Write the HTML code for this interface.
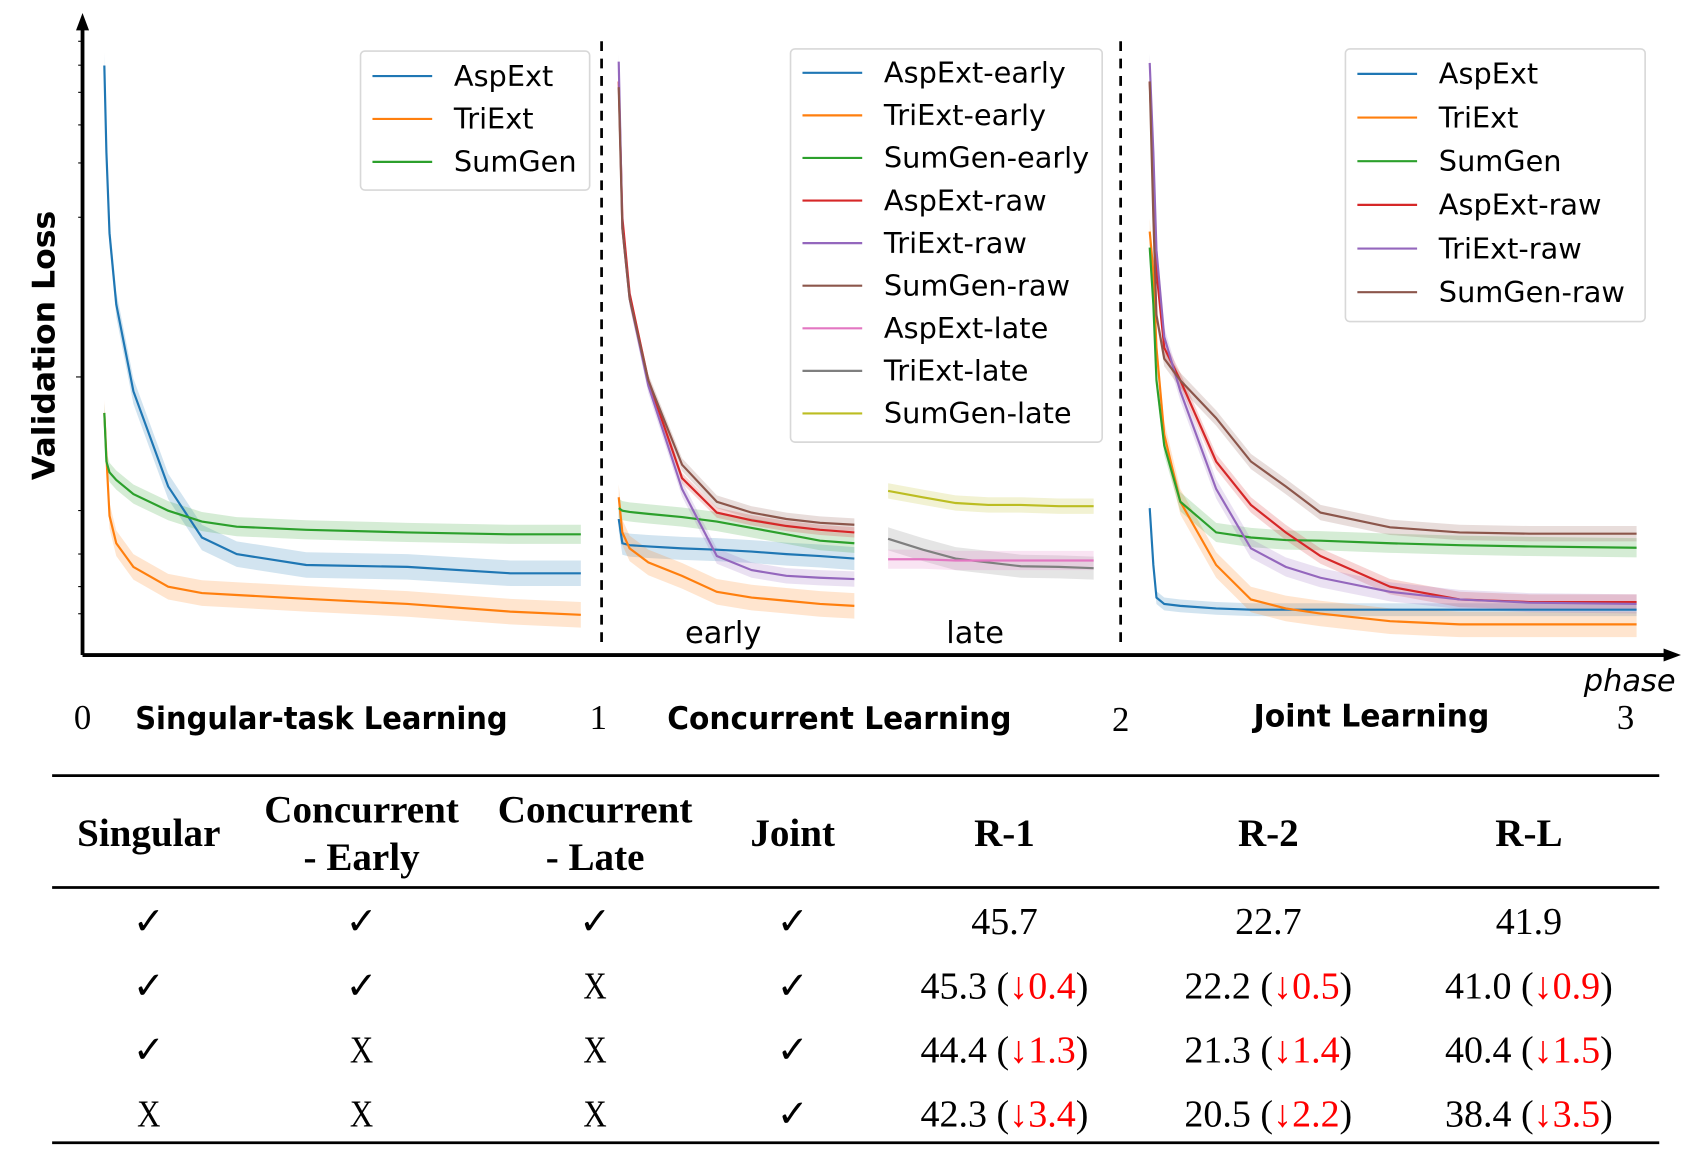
<!DOCTYPE html>
<html><head><meta charset="utf-8"><style>
html,body{margin:0;padding:0;background:#fff;}
svg{display:block;}
.lg{font-family:"DejaVu Sans","Liberation Sans",sans-serif;font-size:26.5px;fill:#000;}
.tb{font-family:"Liberation Serif",serif;font-size:35px;fill:#000;text-anchor:middle;}
.th{font-family:"Liberation Serif",serif;font-size:36px;font-weight:bold;fill:#000;text-anchor:middle;}
.red{fill:#ff0000;}
</style></head><body>
<svg id="chart" width="1694" height="1158" viewBox="0 0 1560 1066" preserveAspectRatio="none" xmlns="http://www.w3.org/2000/svg">
<g id="bands"></g>
<g id="lines"></g>
<g>
<line x1="76" y1="603" x2="76" y2="22" stroke="#000" stroke-width="3.5"/>
<polygon points="76,12 70,28 82,28" fill="#000"/>
<line x1="76" y1="603" x2="1535" y2="603" stroke="#000" stroke-width="3.5"/>
<polygon points="1548,603 1532,597 1532,609" fill="#000"/>
<g stroke="#000" stroke-width="1">
<line x1="72" y1="565" x2="76" y2="565"/><line x1="72" y1="540" x2="76" y2="540"/><line x1="72" y1="510" x2="76" y2="510"/><line x1="72" y1="470" x2="76" y2="470"/><line x1="70" y1="347" x2="76" y2="347"/><line x1="72" y1="200" x2="76" y2="200"/><line x1="72" y1="150" x2="76" y2="150"/><line x1="72" y1="115" x2="76" y2="115"/><line x1="72" y1="85" x2="76" y2="85"/><line x1="72" y1="60" x2="76" y2="60"/><line x1="72" y1="38" x2="76" y2="38"/>
</g>
<line x1="554" y1="38" x2="554" y2="598" stroke="#000" stroke-width="2.5" stroke-dasharray="9,7"/>
<line x1="1032" y1="38" x2="1032" y2="598" stroke="#000" stroke-width="2.5" stroke-dasharray="9,7"/>
<text transform="translate(50,318) rotate(-90)" text-anchor="middle" font-family="'DejaVu Sans',sans-serif" font-weight="bold" font-size="29">Validation Loss</text>
<text x="666" y="592" text-anchor="middle" class="lg" style="font-size:28px">early</text>
<text x="898" y="592" text-anchor="middle" class="lg" style="font-size:28px">late</text>
<text x="1543" y="636" text-anchor="end" class="lg" style="font-size:28px;font-style:italic">phase</text>
<g font-family="'Liberation Serif',serif" font-size="32" text-anchor="middle">
<text x="76" y="671">0</text>
<text x="551" y="671">1</text>
<text x="1032" y="673">2</text>
<text x="1497" y="671">3</text>
</g>
<g font-family="'DejaVu Sans',sans-serif" font-size="29" font-weight="bold" text-anchor="middle">
<text x="296" y="671" textLength="343" lengthAdjust="spacingAndGlyphs">Singular-task Learning</text>
<text x="773" y="671" textLength="317" lengthAdjust="spacingAndGlyphs">Concurrent Learning</text>
<text x="1263" y="669" textLength="217" lengthAdjust="spacingAndGlyphs">Joint Learning</text>
</g>
</g>
<g id="legends"></g>
<g>
<line x1="48" y1="714" x2="1528" y2="714" stroke="#000" stroke-width="2.5"/>
<line x1="48" y1="817" x2="1528" y2="817" stroke="#000" stroke-width="2.5"/>
<line x1="48" y1="1052" x2="1528" y2="1052" stroke="#000" stroke-width="2.5"/>
<text class="th" x="137" y="779">Singular</text>
<text class="th" x="333" y="757">Concurrent<tspan x="333" y="801">- Early</tspan></text>
<text class="th" x="548" y="757">Concurrent<tspan x="548" y="801">- Late</tspan></text>
<text class="th" x="730" y="779">Joint</text>
<text class="th" x="925" y="779">R-1</text>
<text class="th" x="1168" y="779">R-2</text>
<text class="th" x="1408" y="779">R-L</text>
<g id="tbody"></g>
</g>
</svg>
<script>
const xPhase1 = [0.042,0.046,0.052,0.065,0.098,0.165,0.230,0.297,0.431,0.626,0.824,0.960];
const p1AspExt = [9.23,7.87,6.60,5.49,4.13,2.64,1.84,1.58,1.41,1.38,1.28,1.28];
const p1TriExt = [3.79,3.11,2.18,1.75,1.38,1.07,0.97,0.94,0.88,0.80,0.68,0.63];
const p1SumGen = [3.79,3.03,2.86,2.74,2.52,2.26,2.09,2.01,1.96,1.92,1.89,1.89];
const xEarly = [1.033,1.040,1.054,1.090,1.155,1.222,1.289,1.356,1.421,1.487];
const earlyAspExt = [2.13,1.75,1.72,1.70,1.67,1.65,1.62,1.58,1.55,1.51];
const earlyTriExt = [2.47,1.92,1.67,1.45,1.24,0.99,0.90,0.85,0.80,0.77];
const earlySumGen = [2.30,2.26,2.24,2.21,2.16,2.09,1.99,1.89,1.79,1.75];
const earlyAspRaw = [8.98,6.85,5.66,4.30,2.77,2.23,2.11,2.02,1.96,1.92];
const earlyTriRaw = [9.29,6.68,5.58,4.22,2.60,1.55,1.33,1.24,1.21,1.19];
const earlySumRaw = [8.89,6.68,5.58,4.30,2.98,2.40,2.23,2.13,2.07,2.04];
const xLate = [1.552,1.619,1.682,1.745,1.808,1.881,1.948];
const lateSumGen = [2.57,2.47,2.38,2.35,2.35,2.33,2.33];
const lateTriExt = [1.82,1.65,1.51,1.45,1.39,1.38,1.36];
const lateAspExt = [1.50,1.50,1.48,1.48,1.48,1.48,1.48];
const xJoint = [2.056,2.063,2.069,2.084,2.115,2.184,2.251,2.318,2.385,2.519,2.653,2.787,2.994];
const jAspExt = [2.30,1.41,0.90,0.80,0.77,0.73,0.71,0.71,0.71,0.71,0.71,0.71,0.71];
const jTriExt = [6.63,6.00,4.81,3.45,2.40,1.41,0.87,0.73,0.65,0.53,0.48,0.48,0.48];
const jSumGen = [6.38,5.49,4.30,3.28,2.40,1.92,1.84,1.80,1.79,1.75,1.72,1.70,1.68];
const jAspRaw = [8.98,7.53,6.00,4.81,4.30,3.03,2.35,1.92,1.55,1.07,0.87,0.83,0.83];
const jTriRaw = [9.27,7.87,6.34,4.98,4.13,2.60,1.67,1.38,1.21,0.99,0.87,0.82,0.80];
const jSumRaw = [8.98,6.85,5.32,4.64,4.30,3.71,3.03,2.64,2.23,2.00,1.92,1.90,1.90];

const C = {blue:'#1f77b4',orange:'#ff7f0e',green:'#2ca02c',red:'#d62728',purple:'#9467bd',brown:'#8c564b',pink:'#e377c2',gray:'#7f7f7f',olive:'#bcbd22'};
const xs = p => 76 + p*478;
const ys = v => 603 - v*58.8;
const NS = 'http://www.w3.org/2000/svg';
const series = [
 ['phase1-aspext',xPhase1,p1AspExt,C.blue,0.2],['phase1-triext',xPhase1,p1TriExt,C.orange,0.2],['phase1-sumgen',xPhase1,p1SumGen,C.green,0.15],
 ['early-aspext',xEarly,earlyAspExt,C.blue,0.18],['early-triext',xEarly,earlyTriExt,C.orange,0.2],['early-sumgen',xEarly,earlySumGen,C.green,0.15],
 ['early-aspext-raw',xEarly,earlyAspRaw,C.red,0.08],['early-triext-raw',xEarly,earlyTriRaw,C.purple,0.12],['early-sumgen-raw',xEarly,earlySumRaw,C.brown,0.1],
 ['late-sumgen',xLate,lateSumGen,C.olive,0.12],['late-triext',xLate,lateTriExt,C.gray,0.18],['late-aspext',xLate,lateAspExt,C.pink,0.15],
 ['joint-aspext',xJoint,jAspExt,C.blue,0.1],['joint-triext',xJoint,jTriExt,C.orange,0.2],['joint-sumgen',xJoint,jSumGen,C.green,0.15],
 ['joint-aspext-raw',xJoint,jAspRaw,C.red,0.12],['joint-triext-raw',xJoint,jTriRaw,C.purple,0.15],['joint-sumgen-raw',xJoint,jSumRaw,C.brown,0.12]
];
const bandsG=document.getElementById('bands'), linesG=document.getElementById('lines');
series.forEach(([name,xa,ya,col,sp])=>{
  let up=xa.map((x,i)=>xs(x)+','+ys(ya[i]+sp)).join(' ');
  let dn=xa.map((x,i)=>xs(x)+','+ys(Math.max(ya[i]-sp,0))).reverse().join(' ');
  const b=document.createElementNS(NS,'polygon');
  b.setAttribute('points',up+' '+dn);b.setAttribute('fill',col);b.setAttribute('fill-opacity','0.2');
  
  
  bandsG.appendChild(b);
  const l=document.createElementNS(NS,'polyline');
  l.setAttribute('points',xa.map((x,i)=>xs(x)+','+ys(ya[i])).join(' '));
  l.setAttribute('fill','none');l.setAttribute('stroke',col);l.setAttribute('stroke-width','2');
  
  
  linesG.appendChild(l);
});
const legends=[
 {name:'legend-singular',x:332,y:47,w:211,h:128,y0:70,dy:39.5,items:[['AspExt',C.blue],['TriExt',C.orange],['SumGen',C.green]]},
 {name:'legend-concurrent',x:728,y:45,w:287,h:362,y0:67,dy:39.2,items:[['AspExt-early',C.blue],['TriExt-early',C.orange],['SumGen-early',C.green],['AspExt-raw',C.red],['TriExt-raw',C.purple],['SumGen-raw',C.brown],['AspExt-late',C.pink],['TriExt-late',C.gray],['SumGen-late',C.olive]]},
 {name:'legend-joint',x:1239,y:45,w:276,h:251,y0:68,dy:40.2,items:[['AspExt',C.blue],['TriExt',C.orange],['SumGen',C.green],['AspExt-raw',C.red],['TriExt-raw',C.purple],['SumGen-raw',C.brown]]}
];
const lg=document.getElementById('legends');
legends.forEach(L=>{
  const g=document.createElementNS(NS,'g');
  
  
  const r=document.createElementNS(NS,'rect');
  r.setAttribute('x',L.x);r.setAttribute('y',L.y);r.setAttribute('width',L.w);r.setAttribute('height',L.h);
  r.setAttribute('rx',4);r.setAttribute('fill','#fff');r.setAttribute('fill-opacity','0.85');r.setAttribute('stroke','#d8d8d8');r.setAttribute('stroke-width','1.5');
  g.appendChild(r);
  L.items.forEach(([t,c],i)=>{
    const yy=L.y0+i*L.dy;
    const ln=document.createElementNS(NS,'line');
    ln.setAttribute('x1',L.x+11);ln.setAttribute('x2',L.x+66);ln.setAttribute('y1',yy);ln.setAttribute('y2',yy);
    ln.setAttribute('stroke',c);ln.setAttribute('stroke-width','2');
    g.appendChild(ln);
    const tx=document.createElementNS(NS,'text');
    tx.setAttribute('x',L.x+86);tx.setAttribute('y',yy+9);tx.setAttribute('class','lg');tx.textContent=t;
    
    
    g.appendChild(tx);
  });
  lg.appendChild(g);
});
const rowMarks=[['✓','✓','✓','✓'],['✓','✓','×','✓'],['✓','×','×','✓'],['×','×','×','✓']];
const rowR1=['45.7','45.3','44.4','42.3'], rowR1d=['','0.4','1.3','3.4'];
const rowR2=['22.7','22.2','21.3','20.5'], rowR2d=['','0.5','1.4','2.2'];
const rowRL=['41.9','41.0','40.4','38.4'], rowRLd=['','0.9','1.5','3.5'];
const colX=[137,333,548,730], tb=document.getElementById('tbody');
rowMarks.forEach((m,i)=>{
  const y=860+i*59;
  m.forEach((s,j)=>{
    const t=document.createElementNS(NS,'text');
    t.setAttribute('y',y);t.setAttribute('class','tb');
    if(s==='✓'){
      t.setAttribute('x',colX[j]);
      t.setAttribute('font-family','"DejaVu Sans",sans-serif');t.setAttribute('font-size','34');
      t.textContent='✓';
    } else {
      t.setAttribute('x',colX[j]/0.85);
      t.setAttribute('transform','scale(0.85,1)');
      t.setAttribute('font-family','"Liberation Serif",serif');t.setAttribute('font-size','40');
      t.textContent='X';
    }
    
    
    tb.appendChild(t);
  });
  [[925,rowR1,rowR1d],[1168,rowR2,rowR2d],[1408,rowRL,rowRLd]].forEach(([cx,v,d],k)=>{
    const t=document.createElementNS(NS,'text');
    t.setAttribute('x',cx);t.setAttribute('y',y);t.setAttribute('class','tb');
    if(d[i]){t.innerHTML=v[i]+' (<tspan class="red">↓'+d[i]+'</tspan>)';}
    else t.textContent=v[i];
    
    
    tb.appendChild(t);
  });
});
</script>
</body></html>
